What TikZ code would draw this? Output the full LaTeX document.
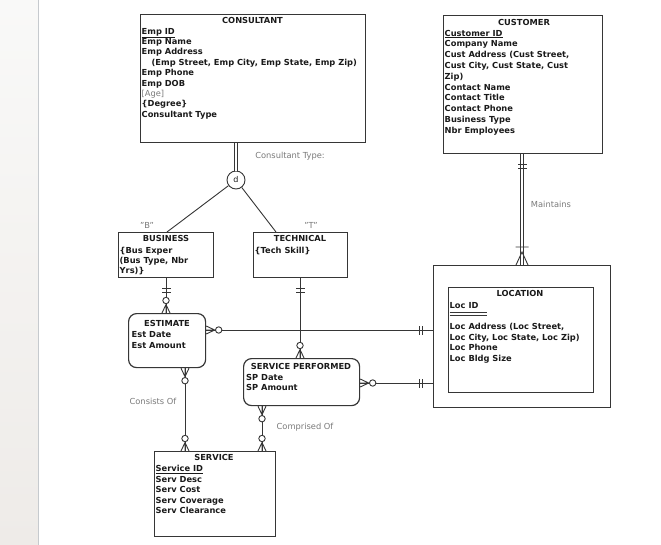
\documentclass[tikz,border=0pt]{standalone}
\usepackage{fontspec}
\setmainfont{DejaVu Sans}
\usetikzlibrary{calc}
\definecolor{txt}{HTML}{1A1A1A}
\definecolor{lbl}{HTML}{7A7A7A}
\definecolor{edge}{HTML}{363636}
\definecolor{stripA}{HTML}{F9F9F8}
\definecolor{stripB}{HTML}{EEEBE8}
\definecolor{stripL}{HTML}{C6CACE}
\begin{document}
\begin{tikzpicture}[x=1pt,y=-1pt,
 ent/.style={draw=edge, line width=1.2pt, fill=white, inner sep=0pt, anchor=north west},
 ttl/.style={font=\fontsize{8.3}{10.5}\selectfont\bfseries, text=txt, inner sep=0pt, anchor=base},
 attr/.style={font=\fontsize{8.3}{#1}\selectfont\bfseries, text=txt, inner sep=0pt, anchor=north west, align=left},
 attr/.default=10.5,
 lab/.style={font=\fontsize{8.3}{10}\selectfont, text=lbl, inner sep=0pt},
 conn/.style={draw=edge, line width=0.9pt},
 dbl/.style={draw=edge, line width=0.8pt, double=white, double distance=1.8pt},
 pics/zm/.style={code={
   \draw[conn] (-4,0) -- (0,-8.5) -- (4,0) (0,0) -- (0,-8.5);
   \draw[conn, fill=white] (0,-12.5) circle (3.2);}},
 pics/bars/.style={code={
   \draw[conn] (-4.5,-10.5) -- (4.5,-10.5) (-4.5,-14) -- (4.5,-14);}},
 pics/onemany/.style={code={
   \draw[conn] (-6,0) -- (0,-13) -- (6,0) (-6.5,-18) -- (6.5,-18);}},
]
\useasboundingbox (0,0) rectangle (661,545);
\fill[white] (0,0) rectangle (661,545);
% left strip
\shade[top color=stripA, bottom color=stripB] (0,0) rectangle (38,545);
\draw[stripL, line width=1pt] (38.5,0) -- (38.5,545);

% column / row coordinates
\coordinate (cB) at (166,0);
\coordinate (cT) at (300,0);
\coordinate (cE) at (185,0);
\coordinate (cS) at (262,0);
\coordinate (cC) at (522,0);
\coordinate (cBd) at (167,0);
\coordinate (cTd) at (276,0);
\coordinate (rE) at (0,330);
\coordinate (rS) at (0,383);

% boxes
\node[ent, minimum width=225pt, minimum height=128pt] (cons) at (140,14) {};
\node[ent, minimum width=159pt, minimum height=138pt] (cust) at (443,15) {};
\node[ent, minimum width=95pt, minimum height=45pt] (bus) at (118,232) {};
\node[ent, minimum width=94pt, minimum height=45pt] (tech) at (253,232) {};
\node[ent, rounded corners=8pt, minimum width=77pt, minimum height=54pt] (est) at (128,313) {};
\node[ent, rounded corners=8pt, minimum width=116pt, minimum height=47pt] (sp) at (243,358) {};
\node[ent, minimum width=177pt, minimum height=142pt] (loco) at (433,265) {};
\node[ent, minimum width=145pt, minimum height=105pt] (loci) at (448,287) {};
\node[ent, minimum width=121pt, minimum height=85pt] (serv) at (154,451) {};

% disjoint circle
\node[circle, draw=edge, line width=0.9pt, fill=white, minimum size=18pt, inner sep=0pt,
      font=\fontsize{8}{8}\selectfont, text=txt] (d) at (236,180) {d};

% connectors
\draw[dbl] (cons.south -| d) -- (d.north);
\draw[conn] (d) -- (bus.north -| cBd);
\draw[conn] (d) -- (tech.north -| cTd);
\draw[conn] (bus.south -| cB) -- (est.north -| cB);
\draw[conn] (tech.south -| cT) -- (sp.north -| cT);
\draw[conn] (est.east |- rE) -- (loco.west |- rE);
\draw[conn] (sp.east |- rS) -- (loco.west |- rS);
\draw[conn] (est.south -| cE) -- (serv.north -| cE);
\draw[conn] (sp.south -| cS) -- (serv.north -| cS);
\draw[dbl] (cust.south -| cC) -- (loco.north -| cC);

% cardinality marks
\pic[rotate=180] at (bus.south -| cB) {bars};
\pic at (est.north -| cB) {zm};
\pic[rotate=180] at (tech.south -| cT) {bars};
\pic at (sp.north -| cT) {zm};
\pic[rotate=-90] at (est.east |- rE) {zm};
\pic[rotate=90] at (loco.west |- rE) {bars};
\pic[rotate=-90] at (sp.east |- rS) {zm};
\pic[rotate=90] at (loco.west |- rS) {bars};
\pic[rotate=180] at (est.south -| cE) {zm};
\pic at (serv.north -| cE) {zm};
\pic[rotate=180] at (sp.south -| cS) {zm};
\pic at (serv.north -| cS) {zm};
\pic[rotate=180] at (cust.south -| cC) {bars};
\pic at (loco.north -| cC) {onemany};

% titles
\node[ttl] (tcons) at (252.5,23.5) {CONSULTANT};
\node[ttl] (tcust) at (524,25.7) {CUSTOMER};
\node[ttl] (tbus) at (166,241.7) {BUSINESS};
\node[ttl] (ttech) at (300,241.7) {TECHNICAL};
\node[ttl] (test) at (167,326.7) {ESTIMATE};
\node[ttl] (tsp) at (301,369.3) {SERVICE PERFORMED};
\node[ttl] (tloc) at (520,296.7) {LOCATION};
\node[ttl] (tserv) at (214,460.7) {SERVICE};

% attributes
\node[attr=10.4] (acons) at (141.5,26.65) {\strut\underline{Emp ID}\\
Emp Name\\
Emp Address\\
\hspace*{10pt}(Emp Street, Emp City, Emp State, Emp Zip)\\
Emp Phone\\
Emp DOB\\
{\mdseries\color{lbl}[Age]}\\
\{Degree\}\\
Consultant Type};
\node[attr=10.8] (acust) at (444.5,28.35) {\strut\underline{Customer ID}\\
Company Name\\
Cust Address (Cust Street,\\
Cust City, Cust State, Cust\\
Zip)\\
Contact Name\\
Contact Title\\
Contact Phone\\
Business Type\\
Nbr Employees};
\node[attr=10.3] (abus) at (119.5,245.95) {\strut\{Bus Exper\\
(Bus Type, Nbr\\
Yrs)\}};
\node[attr] (atech) at (254.5,245.65) {\strut\{Tech Skill\}};
\node[attr] (aest) at (131.5,330.35) {\strut Est Date\\
Est Amount};
\node[attr] (asp) at (246,372.65) {\strut SP Date\\
SP Amount};
\node[attr=10.6] (aloc) at (449.5,300.95) {\strut Loc ID\\[10.4pt]
Loc Address (Loc Street,\\
Loc City, Loc State, Loc Zip)\\
Loc Phone\\
Loc Bldg Size};
\draw[edge, line width=0.8pt] (449.5,312.3) -- (487,312.3) (449.5,315.2) -- (487,315.2);
\node[attr] (aserv) at (155.5,463.95) {\strut\underline{Service ID}\\
Serv Desc\\
Serv Cost\\
Serv Coverage\\
Serv Clearance};

% labels
\node[lab] (lct) at (290,156) {Consultant Type:};
\node[lab] (lb) at (147,225) {"B"};
\node[lab] (lt) at (311,225) {"T"};
\node[lab] (lm) at (551,204) {Maintains};
\node[lab] (lco) at (153,401.7) {Consists Of};
\node[lab] (lcp) at (305,427.7) {Comprised Of};
\end{tikzpicture}
\end{document}
